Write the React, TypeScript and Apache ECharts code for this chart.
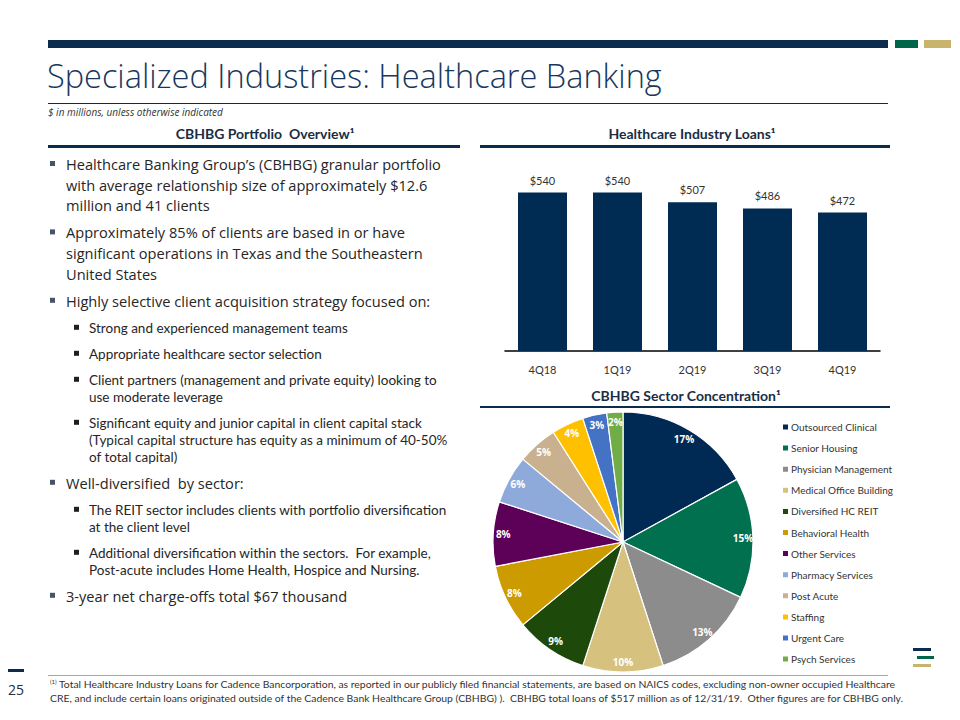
import React, { useEffect, useRef } from "react";
import * as echarts from "echarts";

// ---------- data ----------
const quarters = ["4Q18", "1Q19", "2Q19", "3Q19", "4Q19"];
const loans = [540, 540, 507, 486, 472];

const sectors = [
  "Outsourced Clinical",
  "Senior Housing",
  "Physician Management",
  "Medical Office Building",
  "Diversified HC REIT",
  "Behavioral Health",
  "Other Services",
  "Pharmacy Services",
  "Post Acute",
  "Staffing",
  "Urgent Care",
  "Psych Services",
];
const sectorShares = [17, 15, 13, 10, 9, 8, 8, 6, 5, 4, 3, 2];
const sectorColors = [
  "#002a54",
  "#00704f",
  "#8c8c8c",
  "#d6c17f",
  "#1d4a0b",
  "#cc9b00",
  "#5d0058",
  "#8eaadb",
  "#c9b18f",
  "#ffc000",
  "#4472c4",
  "#70ad47",
];

const title = "Specialized Industries: Healthcare Banking";
const subtitle = "$ in millions, unless otherwise indicated";
const headerLeft = "CBHBG Portfolio  Overview¹";
const headerBars = "Healthcare Industry Loans¹";
const headerPie = "CBHBG Sector Concentration¹";
const pageNumber = "25";
const footnoteLines = [
  "Total Healthcare Industry Loans for Cadence Bancorporation, as reported in our publicly filed financial statements, are based on NAICS codes, excluding non-owner occupied Healthcare",
  "CRE, and include certain loans originated outside of the Cadence Bank Healthcare Group (CBHBG) ).  CBHBG total loans of $517 million as of 12/31/19.  Other figures are for CBHBG only.",
];

// bullets: level 1 = main, level 2 = sub
const bullets: { level: number; lines: string[] }[] = [
  { level: 1, lines: ["Healthcare Banking Group’s (CBHBG) granular portfolio", "with average relationship size of approximately $12.6", "million and 41 clients"] },
  { level: 1, lines: ["Approximately 85% of clients are based in or have", "significant operations in Texas and the Southeastern", "United States"] },
  { level: 1, lines: ["Highly selective client acquisition strategy focused on:"] },
  { level: 2, lines: ["Strong and experienced management teams"] },
  { level: 2, lines: ["Appropriate healthcare sector selection"] },
  { level: 2, lines: ["Client partners (management and private equity) looking to", "use moderate leverage"] },
  { level: 2, lines: ["Significant equity and junior capital in client capital stack", "(Typical capital structure has equity as a minimum of 40-50%", "of total capital)"] },
  { level: 1, lines: ["Well-diversified  by sector:"] },
  { level: 2, lines: ["The REIT sector includes clients with portfolio diversification", "at the client level"] },
  { level: 2, lines: ["Additional diversification within the sectors.  For example,", "Post-acute includes Home Health, Hospice and Nursing."] },
  { level: 1, lines: ["3-year net charge-offs total $67 thousand"] },
];

const NAVY = "#0b2c4d";
const TITLE_BLUE = "#17375e";
const TEXT = "#262626";

function buildGraphics() {
  const g: any[] = [];
  const rect = (x: number, y: number, w: number, h: number, fill: string) =>
    g.push({ type: "rect", shape: { x, y, width: w, height: h }, style: { fill }, silent: true });
  const text = (t: string, x: number, y: number, opts: any = {}) =>
    g.push({
      type: "text",
      x,
      y,
      silent: true,
      style: {
        text: t,
        fill: opts.fill || TEXT,
        fontSize: opts.fontSize || 12,
        fontFamily: opts.fontFamily || "Lato",
        fontWeight: opts.fontWeight || "normal",
        fontStyle: opts.fontStyle || "normal",
        textAlign: opts.align || "left",
        textVerticalAlign: "middle",
      },
    });

  // top bars
  rect(48, 40, 840, 8, NAVY);
  rect(895, 40, 23, 8, "#00664a");
  rect(924, 40, 27, 8, "#c9b46e");
  // title
  text(title, 47, 75, { fontSize: 32.5, fontFamily: "Open Sans", fontWeight: 300, fill: TITLE_BLUE });
  rect(48, 103, 840, 1, "#262626");
  text(subtitle, 48, 112, { fontSize: 10, fontStyle: "italic", fontFamily: "Open Sans", fill: "#333" });

  // headers
  text(headerLeft, 265, 133, { fontSize: 14, fontWeight: "bold", align: "center", fill: "#1a2d44" });
  rect(48, 145, 412, 3, NAVY);
  text(headerBars, 692, 133, { fontSize: 14, fontWeight: "bold", align: "center", fill: "#1a2d44" });
  rect(480, 145, 410, 3, NAVY);
  text(headerPie, 686, 395, { fontSize: 14, fontWeight: "bold", align: "center", fill: "#1a2d44" });
  rect(480, 406, 410, 2, NAVY);

  // bullets
  let y = 164;
  bullets.forEach((b, i) => {
    const main = b.level === 1;
    const lh = main ? 20.7 : 17;
    if (i > 0) {
      y += bullets[i - 1].level === 1 ? 27 : 26;
    }
    const bx = main ? 50 : 74;
    const tx = main ? 66 : 89;
    rect(bx, y - 3, 5, 5, main ? "#44546a" : "#1f1f1f");
    b.lines.forEach((ln, k) => {
      text(ln, tx, y + k * lh, {
        fontSize: main ? 14.6 : 13.5,
        fontFamily: main ? "Open Sans" : "Lato",
      });
    });
    y += (b.lines.length - 1) * lh;
  });

  // footer
  rect(48, 675, 840, 1, "#a6a6a6");
  rect(8, 669, 16, 3, NAVY);
  text(pageNumber, 16, 689, { fontSize: 14, fontFamily: "Open Sans", fill: "#1a2d44", align: "center" });
  text("(1)", 50, 681, { fontSize: 6, fill: "#333" });
  footnoteLines.forEach((ln, k) => {
    text(ln, k === 0 ? 59 : 50, 684 + k * 14, { fontSize: 10.4, fill: "#333" });
  });

  // logo
  rect(913, 648, 18, 3, NAVY);
  rect(917, 656, 17, 3, "#00664a");
  rect(913, 664, 18, 3, "#c9b46e");
  return g;
}

export default function App() {
  const ref = useRef<HTMLDivElement>(null);
  useEffect(() => {
    if (!ref.current) return;
    const chart = echarts.init(ref.current, undefined, { renderer: "svg" });
    const pieData = sectors.map((name, i) => ({
      name,
      value: sectorShares[i],
      itemStyle: { color: sectorColors[i] },
    }));
    chart.setOption({
      animation: false,
      backgroundColor: "#ffffff",
      grid: { left: 505, top: 175, width: 375, height: 176, containLabel: false },
      xAxis: {
        type: "category",
        data: quarters,
        axisLine: { lineStyle: { color: "#000", width: 1.5 } },
        axisTick: { show: false },
        axisLabel: { color: "#333", fontSize: 11, fontFamily: "Lato", margin: 13 },
      },
      yAxis: { type: "value", min: 0, max: 600, show: false, splitLine: { show: false } },
      legend: {
        orient: "vertical",
        left: 776,
        top: 416,
        icon: "rect",
        itemWidth: 7,
        itemHeight: 7,
        itemGap: 9.1,
        selectedMode: false,
        textStyle: { fontSize: 10, fontFamily: "Lato", color: "#333", lineHeight: 12, padding: [0, 0, 0, -3] },
        data: sectors,
      },
      series: [
        {
          type: "bar",
          data: loans,
          barWidth: 49,
          itemStyle: { color: "#002b53" },
          label: {
            show: true,
            position: "top",
            distance: 7,
            formatter: (p: any) => "$" + p.value,
            fontSize: 11,
            fontFamily: "Lato",
            color: "#333",
          },
        },
        {
          type: "pie",
          center: [623, 542],
          radius: [0, 130],
          startAngle: 90,
          clockwise: true,
          data: pieData,
          itemStyle: { borderColor: "#fff", borderWidth: 1.2 },
          label: { show: false },
          labelLine: { show: false },
          emphasis: { disabled: true },
        },
        {
          type: "pie",
          center: [623, 542],
          radius: [104, 130],
          startAngle: 90,
          clockwise: true,
          silent: true,
          data: sectors.map((name, i) => ({ name, value: sectorShares[i] })),
          itemStyle: { color: "rgba(0,0,0,0)", borderWidth: 0 },
          label: {
            show: true,
            position: "inside",
            formatter: (p: any) => p.value + "%",
            color: "#fff",
            fontSize: 10,
            fontWeight: "bold",
            fontFamily: "Open Sans",
          },
          labelLine: { show: false },
          emphasis: { disabled: true },
        },
      ],
      graphic: buildGraphics(),
    });
    return () => chart.dispose();
  }, []);
  return (
    <div
      ref={ref}
      style={{ position: "fixed", left: 0, top: 0, width: 960, height: 720, background: "#fff" }}
    />
  );
}
